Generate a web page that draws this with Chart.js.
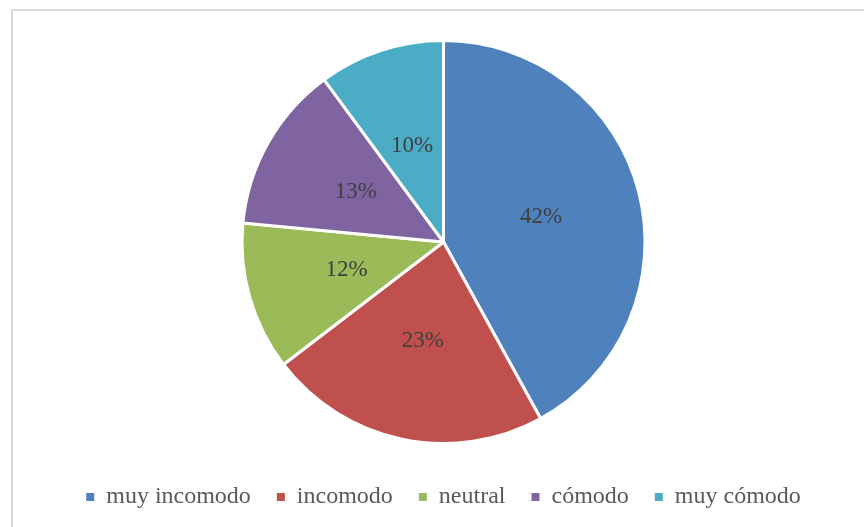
<!DOCTYPE html>
<html>
<head>
<meta charset="utf-8">
<script src="https://cdn.jsdelivr.net/npm/chart.js@4"></script>
<style>
  body { margin: 0; background: #fff; }
  #wrap { position: relative; width: 864px; height: 527px; overflow: hidden; }
  #frame { position: absolute; left: 11px; top: 9px; width: 900px; height: 600px; border: 2px solid #d9d9d9; box-sizing: border-box; }
  canvas { position: absolute; left: 0; top: 0; }
</style>
</head>
<body>
<div id="wrap">
  <div id="frame"></div>
  <canvas id="myChart" width="864" height="527"></canvas>
</div>
<script>
const categories = ['muy incomodo', 'incomodo', 'neutral', 'cómodo', 'muy cómodo'];
const values = [42, 22.6, 11.9, 13.4, 10.1];
const colors = ['#4f81bd', '#c0504d', '#9bbb59', '#8064a2', '#4bacc6'];

// percentage labels inside the slices
const sliceLabels = {
    id: 'sliceLabels',
    afterDatasetsDraw(chart) {
        const ctx = chart.ctx;
        const meta = chart.getDatasetMeta(0);
        const total = values.reduce((a, b) => a + b, 0);
        ctx.save();
        ctx.font = '23px "Liberation Serif", "Times New Roman", serif';
        ctx.fillStyle = '#404040';
        ctx.textAlign = 'center';
        ctx.textBaseline = 'middle';
        meta.data.forEach((arc, i) => {
            const p = arc.tooltipPosition();
            ctx.fillText(Math.round(values[i] / total * 100) + '%', p.x, p.y);
        });
        ctx.restore();
    }
};

const ctx = document.getElementById('myChart').getContext('2d');
const chart = new Chart(ctx, {
    type: 'pie',
    data: {
        labels: categories,
        datasets: [{
            data: values,
            backgroundColor: colors,
            borderColor: '#ffffff',
            borderWidth: 3
        }]
    },
    options: {
        responsive: false,
        animation: false,
        events: [],
        layout: { padding: { top: 39, left: 23, right: 0, bottom: 8 } },
        plugins: {
            tooltip: { enabled: false },
            legend: {
                position: 'bottom',
                // empty title just adds some space above the items
                title: { display: true, text: ' ', padding: 1, font: { size: 10 } },
                labels: {
                    boxWidth: 8,
                    boxHeight: 8,
                    padding: 26,
                    color: '#595959',
                    font: { family: '"Liberation Serif", "Times New Roman", serif', size: 24 },
                    generateLabels(chart) {
                        const items = Chart.overrides.pie.plugins.legend.labels.generateLabels(chart);
                        items.forEach(it => { it.lineWidth = 0; it.strokeStyle = 'rgba(0,0,0,0)'; });
                        return items;
                    }
                }
            }
        }
    },
    plugins: [sliceLabels]
});
</script>
</body>
</html>
